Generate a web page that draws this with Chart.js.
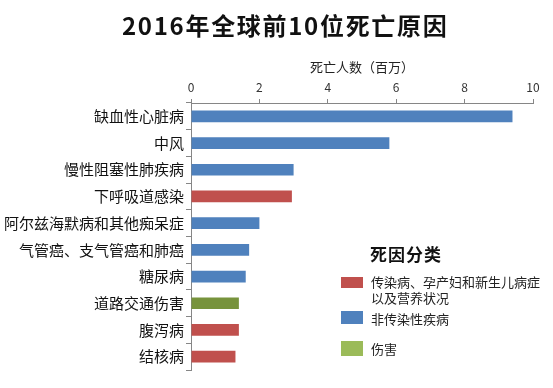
<!DOCTYPE html>
<html>
<head>
<meta charset="utf-8">
<script src="https://cdn.jsdelivr.net/npm/chart.js@4"></script>
<style>
  html, body { margin: 0; padding: 0; background: #fff; }
  #wrap { position: relative; width: 553px; height: 388px; font-family: "Noto Sans CJK SC", sans-serif; }
  #c { position: absolute; left: 0; top: 0; }
  .abs { position: absolute; white-space: nowrap; color: #111; }
  #title { left: 122px; top: 9px; font-size: 24px; font-weight: bold; letter-spacing: 1.7px; line-height: 32px; }
  #lgTitle { left: 370px; top: 243px; font-size: 17px; font-weight: bold; letter-spacing: 1px; line-height: 22px; }
  .sw { position: absolute; width: 22px; }
  .lt { font-size: 13px; line-height: 16px; color: #222; }
</style>
</head>
<body>
<div id="wrap">
  <canvas id="c" width="553" height="388"></canvas>
  <div id="title" class="abs">2016年全球前10位死亡原因</div>
  <div id="lgTitle" class="abs">死因分类</div>
  <div class="sw" style="left:341px;top:277px;height:11px;background:#C0504D"></div>
  <div class="abs lt" style="left:371px;top:274px;">传染病、孕产妇和新生儿病症</div>
  <div class="abs lt" style="left:371px;top:290px;">以及营养状况</div>
  <div class="sw" style="left:341px;top:311px;height:13px;background:#4F81BD"></div>
  <div class="abs lt" style="left:371px;top:311px;">非传染性疾病</div>
  <div class="sw" style="left:341px;top:341px;height:15px;background:#9BBB59"></div>
  <div class="abs lt" style="left:371px;top:341px;">伤害</div>
</div>
<script>
const categories = ["缺血性心脏病", "中风", "慢性阻塞性肺疾病", "下呼吸道感染", "阿尔兹海默病和其他痴呆症", "气管癌、支气管癌和肺癌", "糖尿病", "道路交通伤害", "腹泻病", "结核病"];
const deaths = [9.4, 5.8, 3.0, 2.95, 2.0, 1.7, 1.6, 1.4, 1.4, 1.3];
const causeGroup = ["非传染性疾病", "非传染性疾病", "非传染性疾病", "传染病", "非传染性疾病", "非传染性疾病", "非传染性疾病", "伤害", "传染病", "传染病"];
const xTicks = [0, 2, 4, 6, 8, 10];
const axisTitle = "死亡人数（百万）";

const groupColors = { "传染病": "#C0504D", "非传染性疾病": "#4F81BD", "伤害": "#77933C" };
const fam = '"Noto Sans CJK SC", sans-serif';

new Chart(document.getElementById('c'), {
  type: 'bar',
  data: {
    labels: categories,
    datasets: [{
      data: deaths,
      backgroundColor: causeGroup.map(g => groupColors[g]),
      borderWidth: 0,
      barPercentage: 0.44,
      categoryPercentage: 1.0
    }]
  },
  options: {
    indexAxis: 'y',
    responsive: false,
    animation: false,
    devicePixelRatio: 1,
    layout: { padding: { left: 0, right: 20, top: 39, bottom: 18 } },
    plugins: { legend: { display: false }, title: { display: false }, tooltip: { enabled: false } },
    scales: {
      x: {
        position: 'top',
        min: 0, max: 10,
        afterBuildTicks: s => { s.ticks = xTicks.map(v => ({ value: v })); },
        afterFit: s => { s.height = 64; },
        ticks: { color: '#333', font: { family: fam, size: 12 }, padding: 4, maxRotation: 0 },
        grid: { drawOnChartArea: false, tickLength: 4, color: '#868686' },
        border: { color: '#868686' },
        title: { display: true, text: axisTitle, color: '#222', font: { family: fam, size: 13 }, padding: { top: 20, bottom: 0 } }
      },
      y: {
        afterFit: s => { s.width = 191; },
        ticks: { color: '#111', font: { family: fam, size: 15 }, padding: 2 },
        grid: { drawOnChartArea: false, offset: true, tickLength: 5, color: '#868686' },
        border: { color: '#868686' }
      }
    }
  }
});
</script>
</body>
</html>
